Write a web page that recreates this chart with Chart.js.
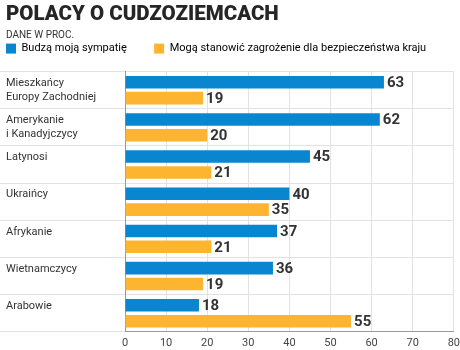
<!DOCTYPE html>
<html>
<head>
<meta charset="utf-8">
<script src="https://cdn.jsdelivr.net/npm/chart.js@4"></script>
<style>
  body { margin: 0; background: #fff; }
  #wrap { width: 460px; height: 350px; position: relative; }
</style>
</head>
<body>
<div id="wrap"><canvas id="myChart"></canvas></div>
<script>
const categories = [
  ['Mieszkańcy', 'Europy Zachodniej'],
  ['Amerykanie', 'i Kanadyjczycy'],
  ['Latynosi', ''],
  ['Ukraińcy', ''],
  ['Afrykanie', ''],
  ['Wietnamczycy', ''],
  ['Arabowie', '']
];
const seriesNames = ['Budzą moją sympatię', 'Mogą stanowić zagrożenie dla bezpieczeństwa kraju'];
const sympathy = [63, 62, 45, 40, 37, 36, 18];
const threat = [19, 20, 21, 35, 21, 19, 55];
const xMin = 0, xMax = 80, xStep = 10;

const FONT = 'Roboto';

// value labels at the end of each bar
const valueLabels = {
  id: 'valueLabels',
  afterDatasetsDraw(chart) {
    const ctx = chart.ctx;
    ctx.save();
    ctx.font = 'bold 15px ' + FONT;
    ctx.fillStyle = '#333';
    ctx.textBaseline = 'middle';
    ctx.textAlign = 'left';
    chart.data.datasets.forEach((ds, i) => {
      chart.getDatasetMeta(i).data.forEach((bar, j) => {
        ctx.fillText(ds.data[j], bar.x + 3, bar.y + 1);
      });
    });
    ctx.restore();
  }
};

const ctx = document.getElementById('myChart');
new Chart(ctx, {
  type: 'bar',
  data: {
    labels: categories,
    datasets: [
      {
        label: seriesNames[0],
        data: sympathy,
        backgroundColor: '#0a86d1',
        categoryPercentage: 0.854,
        barPercentage: 0.79
      },
      {
        label: seriesNames[1],
        data: threat,
        backgroundColor: '#fdb42f',
        categoryPercentage: 0.854,
        barPercentage: 0.79
      }
    ]
  },
  options: {
    indexAxis: 'y',
    responsive: true,
    maintainAspectRatio: false,
    animation: false,
    layout: { padding: { left: 6, right: 0, top: 0, bottom: 0 } },
    plugins: {
      title: {
        display: true,
        text: 'POLACY O CUDZOZIEMCACH',
        align: 'start',
        color: '#262626',
        font: { family: FONT, size: 20.5, weight: '900' },
        padding: { top: 3, bottom: 0 }
      },
      subtitle: {
        display: true,
        text: 'DANE W PROC.',
        align: 'start',
        color: '#333',
        font: { family: FONT, size: 10 },
        padding: { top: 2, bottom: 1.5 }
      },
      legend: {
        display: true,
        align: 'start',
        labels: {
          boxWidth: 10,
          boxHeight: 10,
          padding: 0,
          color: '#333',
          font: { family: FONT, size: 11 },
          generateLabels(chart) {
            return chart.data.datasets.map((ds, i) => ({
              text: i === 0 ? ds.label + '          ' : ds.label,
              fillStyle: ds.backgroundColor,
              strokeStyle: ds.backgroundColor,
              lineWidth: 0,
              datasetIndex: i
            }));
          }
        }
      },
      tooltip: { enabled: false }
    },
    scales: {
      x: {
        min: xMin,
        max: xMax,
        ticks: {
          stepSize: xStep,
          color: '#444',
          padding: 0,
          font: { family: FONT, size: 11 }
        },
        grid: { color: '#e2e2e2', drawTicks: true, tickLength: 5, tickColor: 'rgba(0,0,0,0)' },
        border: { color: '#999' }
      },
      // empty spacer between the legend and the plot
      gap: {
        type: 'linear',
        axis: 'x',
        position: 'top',
        ticks: { display: false },
        grid: { display: false, drawTicks: false },
        border: { display: false },
        afterFit(scale) { scale.height = 7.5; }
      },
      y: {
        ticks: {
          crossAlign: 'far',
          color: '#333',
          font: { family: FONT, size: 11, lineHeight: 1.27 }
        },
        grid: { color: '#e2e2e2', tickLength: 125 },
        border: { color: '#999' },
        afterFit(scale) { scale.width = 119; }
      }
    }
  },
  plugins: [valueLabels]
});
</script>
</body>
</html>
